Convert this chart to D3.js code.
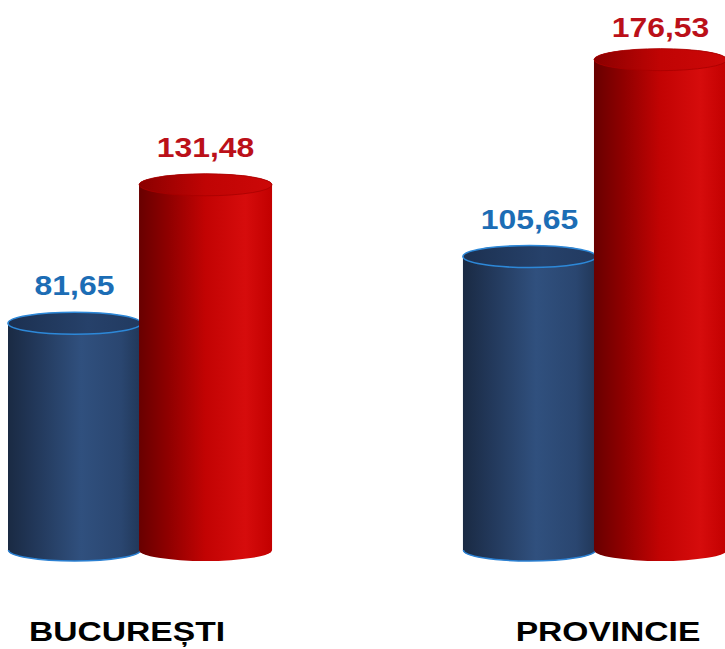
<!DOCTYPE html>
<html lang="ro">
<head>
  <meta charset="UTF-8">
  <title>Cylinder bars</title>
  <style>
    body { margin: 0; background: #fff; }
    text { font-family: "Liberation Sans", Arial, sans-serif; font-weight: bold; }
  </style>
</head>
<body>
  <svg id="svg" width="725" height="649"></svg>

  <script src="https://d3js.org/d3.v7.min.js"></script>
  <script>
    const categories = ['BUCUREȘTI', 'PROVINCIE']
    const seriesNames = ['blue', 'red']
    const blueValues = [81.65, 105.65]
    const redValues = [131.48, 176.53]

    const svg = d3.select('#svg')
    const defs = svg.append('defs')

    // side shading for each cylinder
    const bodyStops = {
      blue: [[0, '#1a2a43'], [0.18, '#213657'], [0.55, '#30507e'], [0.85, '#2a4670'], [1, '#213758']],
      red: [[0, '#680000'], [0.22, '#8f0000'], [0.5, '#c20303'], [0.8, '#d60c0c'], [1, '#c20000']]
    }
    const topStops = {
      blue: [[0, '#1c3050'], [0.6, '#26416a'], [1, '#223a60']],
      red: [[0, '#8a0000'], [0.5, '#c00404'], [1, '#cc0808']]
    }
    Object.keys(bodyStops).forEach(k => {
      defs.append('linearGradient').attr('id', 'body-' + k)
        .selectAll('stop').data(bodyStops[k]).enter().append('stop')
        .attr('offset', d => d[0]).attr('stop-color', d => d[1])
      defs.append('linearGradient').attr('id', 'top-' + k)
        .selectAll('stop').data(topStops[k]).enter().append('stop')
        .attr('offset', d => d[0]).attr('stop-color', d => d[1])
    })

    const x0 = d3.scaleBand()
      .domain(categories)
      .range([9, 726])
      .paddingInner(0.424)
      .paddingOuter(0)

    const x1 = d3.scaleBand()
      .domain(seriesNames)
      .range([0, x0.bandwidth()])

    const y = d3.scaleLinear()
      .domain([0, 180])
      .range([550, 50])

    const ry = 11
    const fmt = d3.formatLocale({ decimal: ',', thousands: '.', grouping: [3], currency: ['', ''] }).format('.2f')

    const data = []
    categories.forEach((c, i) => {
      data.push({ cat: c, key: 'blue', value: blueValues[i] })
      data.push({ cat: c, key: 'red', value: redValues[i] })
    })

    const bars = svg.selectAll('g.bar')
      .data(data)
      .enter()
      .append('g')
      .attr('class', 'bar')

    bars.each(function (d) {
      const g = d3.select(this)
      const left = x0(d.cat) + x1(d.key) - 1
      const w = x1.bandwidth() + 2
      const rx = w / 2
      const right = left + w
      const yTop = y(d.value)
      const yBot = y(0)

      g.append('path')
        .attr('d', `M${left},${yTop} V${yBot} A${rx},${ry} 0 0 0 ${right},${yBot} V${yTop} A${rx},${ry} 0 0 0 ${left},${yTop} Z`)
        .attr('fill', `url(#body-${d.key})`)

      if (d.key === 'blue') {
        g.append('path')
          .attr('d', `M${left + 0.5},${yBot} A${rx - 0.5},${ry} 0 0 0 ${right - 0.5},${yBot}`)
          .attr('fill', 'none')
          .attr('stroke', '#2b80d2')
          .attr('stroke-width', 1.6)
      }

      g.append('ellipse')
        .attr('cx', left + rx)
        .attr('cy', yTop)
        .attr('rx', rx)
        .attr('ry', ry)
        .attr('fill', `url(#top-${d.key})`)
        .attr('stroke', d.key === 'blue' ? '#2d88d8' : '#a80000')
        .attr('stroke-width', d.key === 'blue' ? 1.6 : 0.8)

      // value labels
      const ly = Math.max(37, yTop - ry - 17)
      g.append('text')
        .attr('transform', `translate(${left + rx},${ly}) scale(1.14,1)`)
        .attr('text-anchor', 'middle')
        .attr('font-size', 28)
        .attr('fill', d.key === 'blue' ? '#1c6db5' : '#bb1019')
        .text(fmt(d.value))
    })

    // category labels
    svg.selectAll('text.cat')
      .data(categories)
      .enter()
      .append('text')
      .attr('class', 'cat')
      .attr('transform', (d, i) => `translate(${x0(d) + x0.bandwidth() / 2 + (i === 0 ? -13 : 13)},641) scale(1.2,1)`)
      .attr('text-anchor', 'middle')
      .attr('font-size', 28)
      .attr('fill', '#000')
      .text(d => d)
  </script>
</body>
</html>
